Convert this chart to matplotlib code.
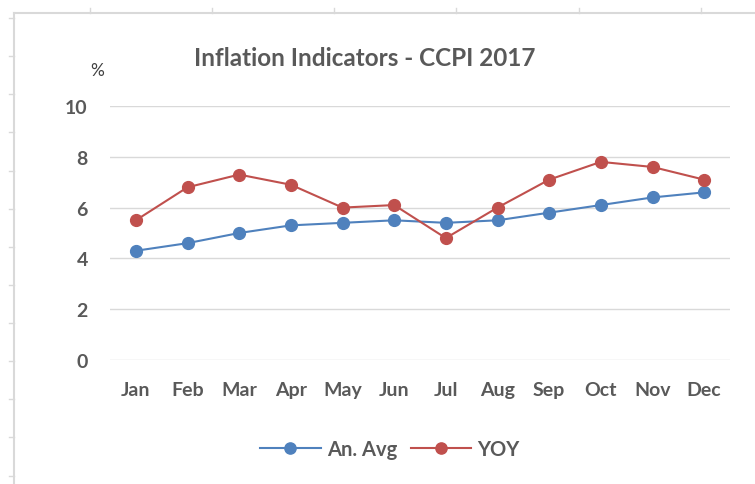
import matplotlib.pyplot as plt
from matplotlib.lines import Line2D

plt.rcParams['font.family'] = ['Lato', 'DejaVu Sans']

months = ['Jan', 'Feb', 'Mar', 'Apr', 'May', 'Jun', 'Jul', 'Aug', 'Sep', 'Oct', 'Nov', 'Dec']
an_avg = [4.3, 4.6, 5.0, 5.3, 5.4, 5.5, 5.4, 5.5, 5.8, 6.1, 6.4, 6.6]
yoy = [5.5, 6.8, 7.3, 6.9, 6.0, 6.1, 4.8, 6.0, 7.1, 7.8, 7.6, 7.1]

W, H = 755, 485
fig = plt.figure(figsize=(W / 100, H / 100), dpi=100)

# spreadsheet cell borders peeking around the chart
def px(x, y):
    return x / W, 1 - y / H

gray = '#d9d9d9'
fig.add_artist(Line2D([px(13.5, 0)[0], px(13.5, 0)[0]], [px(0, 13.5)[1], 0], color=gray, lw=1.5))
fig.add_artist(Line2D([px(13.5, 0)[0], 1], [px(0, 13.5)[1], px(0, 13.5)[1]], color=gray, lw=1.5))
for tx in [90, 212, 334, 456, 579, 701]:
    fig.add_artist(Line2D([tx / W, tx / W], [px(0, 9)[1], px(0, 13.5)[1]], color=gray, lw=1))
for ty in [19, 57, 95, 133, 172, 210, 248, 286, 324, 362, 400, 438, 477]:
    fig.add_artist(Line2D([9 / W, 13.5 / W], [px(0, ty)[1], px(0, ty)[1]], color=gray, lw=1))

ax = fig.add_axes([110 / W, 1 - 361 / H, 620 / W, 254 / H])
x = range(len(months))
ax.plot(x, an_avg, color='#4F81BD', lw=1.5, marker='o', ms=8.5, label='An. Avg', zorder=3)
ax.plot(x, yoy, color='#C0504D', lw=1.5, marker='o', ms=8.5, label='YOY', zorder=3)

ax.set_xlim(-0.5, 11.5)
ax.set_ylim(0, 10)
ax.set_yticks([0, 2, 4, 6, 8, 10])
ax.set_xticks(list(x))
ax.set_xticklabels(months)
ax.grid(axis='y', color=gray, lw=1)
ax.set_axisbelow(True)
for s in ax.spines.values():
    s.set_visible(False)
ax.tick_params(length=0, labelsize=14, labelcolor='#595959')
ax.tick_params(axis='x', pad=15)
ax.tick_params(axis='y', pad=16)
for lab in ax.get_xticklabels() + ax.get_yticklabels():
    lab.set_fontweight('bold')

fig.text(365 / W, 1 - 58 / H, 'Inflation Indicators - CCPI 2017', ha='center', va='center',
         fontsize=17.5, fontweight='bold', color='#595959')
fig.text(97 / W, 1 - 71 / H, '%', ha='center', va='center', fontsize=12.5, color='#404040')

leg = fig.legend(loc='center', bbox_to_anchor=(390 / W, 1 - 450 / H), ncol=2, frameon=False,
                 prop={'weight': 'bold', 'size': 14.5}, handlelength=3.0, columnspacing=0.7,
                 handletextpad=0.3, markerscale=0.95)
for t in leg.get_texts():
    t.set_color('#595959')

fig.savefig('out.png', dpi=100)
